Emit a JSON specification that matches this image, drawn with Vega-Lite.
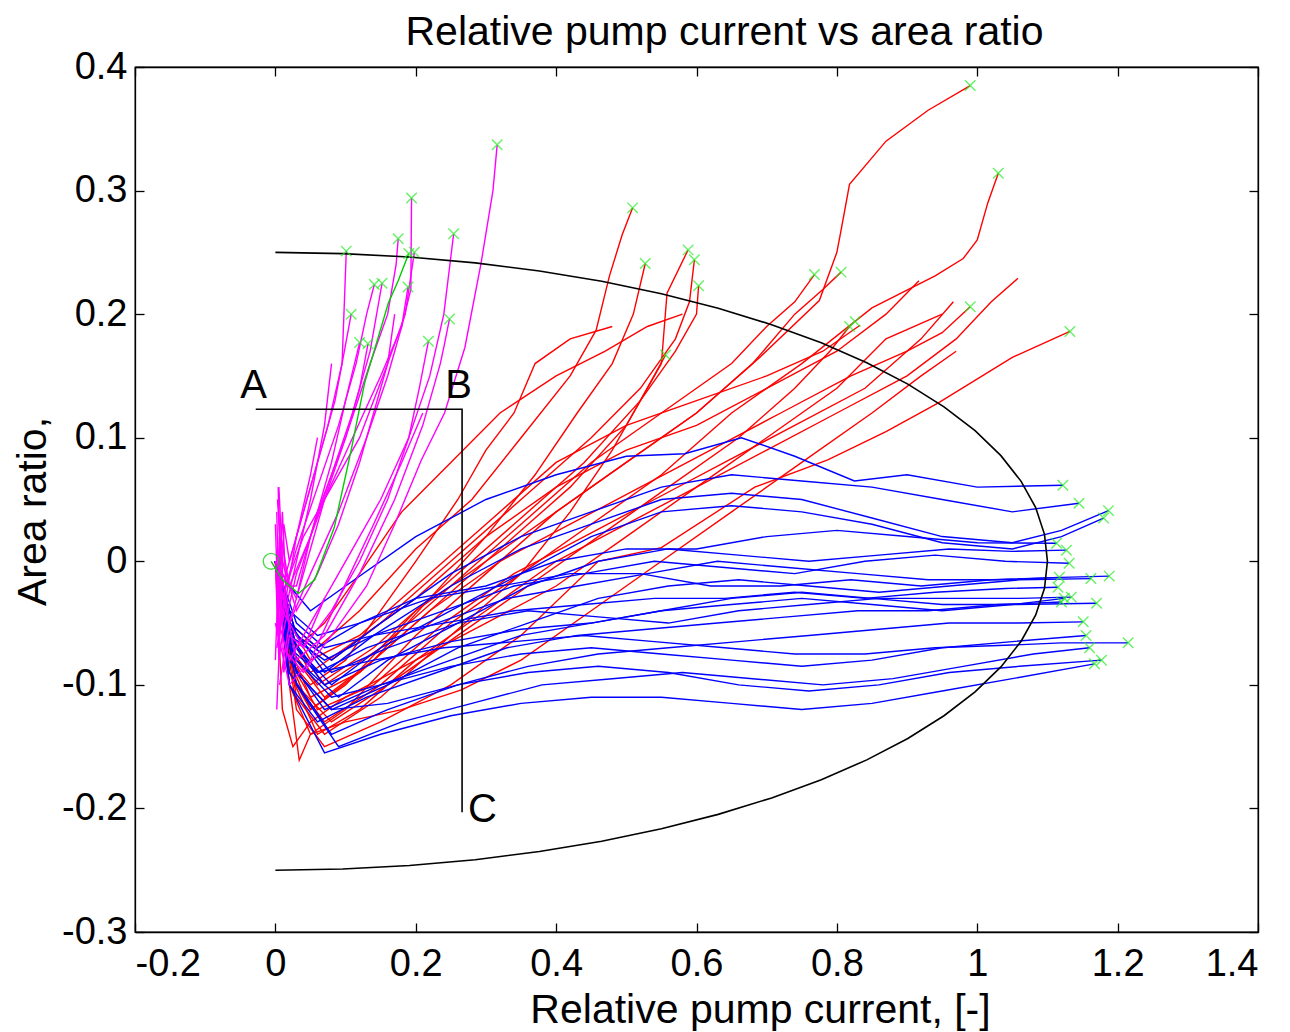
{
"$schema": "https://vega.github.io/schema/vega-lite/v6.json",
"width": 1123, "height": 865,
"autosize": {"type": "none"},
"padding": {"left": 135, "top": 67, "right": 32, "bottom": 100},
"background": "white",
"config": {
  "font": "Liberation Sans",
  "view": {"stroke": "black", "strokeWidth": 1.3},
  "axis": {"grid": false, "domainColor": "black", "domainWidth": 1.3, "tickColor": "black", "tickWidth": 1.3, "tickSize": -9, "labelColor": "black", "labelFontSize": 38, "titleColor": "black", "titleFontSize": 41, "titleFontWeight": "normal", "labelFont": "Liberation Sans", "titleFont": "Liberation Sans"}
},
"title": {"text": "Relative pump current vs area ratio", "anchor": "middle", "dx": 28, "dy": 38, "offset": 0, "baseline": "alphabetic", "fontSize": 41, "fontWeight": "normal", "color": "black", "font": "Liberation Sans"},
"datasets": {
"L": [
{"g":"r","k":1,"i":0,"x":0,"y":0},{"g":"r","k":1,"i":1,"x":0.02,"y":-0.08},{"g":"r","k":1,"i":2,"x":0.05,"y":-0.12},{"g":"r","k":1,"i":3,"x":0.1,"y":-0.1},{"g":"r","k":1,"i":4,"x":0.2,"y":-0.04},{"g":"r","k":1,"i":5,"x":0.3,"y":0.0},{"g":"r","k":1,"i":6,"x":0.4,"y":0.04},{"g":"r","k":1,"i":7,"x":0.5,"y":0.08},{"g":"r","k":1,"i":8,"x":0.6,"y":0.12},{"g":"r","k":1,"i":9,"x":0.69,"y":0.165},{"g":"r","k":1,"i":10,"x":0.775,"y":0.211},{"g":"r","k":1,"i":11,"x":0.8,"y":0.25},{"g":"r","k":1,"i":12,"x":0.806,"y":0.268},{"g":"r","k":1,"i":13,"x":0.818,"y":0.305},{"g":"r","k":1,"i":14,"x":0.87,"y":0.34},{"g":"r","k":1,"i":15,"x":0.93,"y":0.365},{"g":"r","k":1,"i":16,"x":0.99,"y":0.385},
{"g":"r","k":2,"i":0,"x":0,"y":0},{"g":"r","k":2,"i":1,"x":0.03,"y":-0.1},{"g":"r","k":2,"i":2,"x":0.07,"y":-0.13},{"g":"r","k":2,"i":3,"x":0.15,"y":-0.1},{"g":"r","k":2,"i":4,"x":0.25,"y":-0.05},{"g":"r","k":2,"i":5,"x":0.35,"y":-0.01},{"g":"r","k":2,"i":6,"x":0.45,"y":0.03},{"g":"r","k":2,"i":7,"x":0.55,"y":0.07},{"g":"r","k":2,"i":8,"x":0.65,"y":0.12},{"g":"r","k":2,"i":9,"x":0.75,"y":0.16},{"g":"r","k":2,"i":10,"x":0.85,"y":0.205},{"g":"r","k":2,"i":11,"x":0.94,"y":0.231},{"g":"r","k":2,"i":12,"x":0.98,"y":0.245},{"g":"r","k":2,"i":13,"x":1.0,"y":0.26},{"g":"r","k":2,"i":14,"x":1.015,"y":0.29},{"g":"r","k":2,"i":15,"x":1.03,"y":0.314},
{"g":"r","k":3,"i":0,"x":0,"y":0},{"g":"r","k":3,"i":1,"x":0.02,"y":-0.09},{"g":"r","k":3,"i":2,"x":0.06,"y":-0.14},{"g":"r","k":3,"i":3,"x":0.12,"y":-0.12},{"g":"r","k":3,"i":4,"x":0.2,"y":-0.08},{"g":"r","k":3,"i":5,"x":0.3,"y":-0.04},{"g":"r","k":3,"i":6,"x":0.4,"y":0.0},{"g":"r","k":3,"i":7,"x":0.5,"y":0.03},{"g":"r","k":3,"i":8,"x":0.6,"y":0.06},{"g":"r","k":3,"i":9,"x":0.7,"y":0.09},{"g":"r","k":3,"i":10,"x":0.8,"y":0.12},{"g":"r","k":3,"i":11,"x":0.9,"y":0.15},{"g":"r","k":3,"i":12,"x":0.97,"y":0.18},{"g":"r","k":3,"i":13,"x":1.02,"y":0.21},{"g":"r","k":3,"i":14,"x":1.058,"y":0.229},
{"g":"r","k":4,"i":0,"x":0,"y":0},{"g":"r","k":4,"i":1,"x":0.03,"y":-0.12},{"g":"r","k":4,"i":2,"x":0.07,"y":-0.15},{"g":"r","k":4,"i":3,"x":0.15,"y":-0.13},{"g":"r","k":4,"i":4,"x":0.25,"y":-0.1},{"g":"r","k":4,"i":5,"x":0.35,"y":-0.06},{"g":"r","k":4,"i":6,"x":0.46,"y":0.0},{"g":"r","k":4,"i":7,"x":0.55,"y":0.011},{"g":"r","k":4,"i":8,"x":0.683,"y":0.06},{"g":"r","k":4,"i":9,"x":0.787,"y":0.082},{"g":"r","k":4,"i":10,"x":0.87,"y":0.105},{"g":"r","k":4,"i":11,"x":0.944,"y":0.128},{"g":"r","k":4,"i":12,"x":1.05,"y":0.165},{"g":"r","k":4,"i":13,"x":1.132,"y":0.186},
{"g":"r","k":5,"i":0,"x":0,"y":0},{"g":"r","k":5,"i":1,"x":0.02,"y":-0.07},{"g":"r","k":5,"i":2,"x":0.05,"y":-0.11},{"g":"r","k":5,"i":3,"x":0.12,"y":-0.09},{"g":"r","k":5,"i":4,"x":0.22,"y":-0.04},{"g":"r","k":5,"i":5,"x":0.32,"y":0.0},{"g":"r","k":5,"i":6,"x":0.42,"y":0.03},{"g":"r","k":5,"i":7,"x":0.52,"y":0.06},{"g":"r","k":5,"i":8,"x":0.62,"y":0.09},{"g":"r","k":5,"i":9,"x":0.72,"y":0.12},{"g":"r","k":5,"i":10,"x":0.82,"y":0.15},{"g":"r","k":5,"i":11,"x":0.9,"y":0.17},{"g":"r","k":5,"i":12,"x":0.95,"y":0.185},{"g":"r","k":5,"i":13,"x":0.99,"y":0.206},
{"g":"r","k":6,"i":0,"x":0,"y":0},{"g":"r","k":6,"i":1,"x":0.03,"y":-0.09},{"g":"r","k":6,"i":2,"x":0.06,"y":-0.12},{"g":"r","k":6,"i":3,"x":0.14,"y":-0.1},{"g":"r","k":6,"i":4,"x":0.24,"y":-0.05},{"g":"r","k":6,"i":5,"x":0.34,"y":-0.01},{"g":"r","k":6,"i":6,"x":0.44,"y":0.02},{"g":"r","k":6,"i":7,"x":0.54,"y":0.05},{"g":"r","k":6,"i":8,"x":0.64,"y":0.08},{"g":"r","k":6,"i":9,"x":0.74,"y":0.11},{"g":"r","k":6,"i":10,"x":0.84,"y":0.14},{"g":"r","k":6,"i":11,"x":0.92,"y":0.18},{"g":"r","k":6,"i":12,"x":0.966,"y":0.21},
{"g":"r","k":7,"i":0,"x":0,"y":0},{"g":"r","k":7,"i":1,"x":0.02,"y":-0.06},{"g":"r","k":7,"i":2,"x":0.05,"y":-0.09},{"g":"r","k":7,"i":3,"x":0.1,"y":-0.07},{"g":"r","k":7,"i":4,"x":0.2,"y":-0.03},{"g":"r","k":7,"i":5,"x":0.3,"y":0.02},{"g":"r","k":7,"i":6,"x":0.4,"y":0.06},{"g":"r","k":7,"i":7,"x":0.5,"y":0.09},{"g":"r","k":7,"i":8,"x":0.6,"y":0.11},{"g":"r","k":7,"i":9,"x":0.7,"y":0.14},{"g":"r","k":7,"i":10,"x":0.8,"y":0.17},{"g":"r","k":7,"i":11,"x":0.87,"y":0.2},{"g":"r","k":7,"i":12,"x":0.917,"y":0.227},
{"g":"r","k":8,"i":0,"x":0,"y":0},{"g":"r","k":8,"i":1,"x":0.03,"y":-0.1},{"g":"r","k":8,"i":2,"x":0.08,"y":-0.13},{"g":"r","k":8,"i":3,"x":0.16,"y":-0.1},{"g":"r","k":8,"i":4,"x":0.26,"y":-0.06},{"g":"r","k":8,"i":5,"x":0.36,"y":-0.02},{"g":"r","k":8,"i":6,"x":0.46,"y":0.02},{"g":"r","k":8,"i":7,"x":0.56,"y":0.06},{"g":"r","k":8,"i":8,"x":0.66,"y":0.1},{"g":"r","k":8,"i":9,"x":0.74,"y":0.14},{"g":"r","k":8,"i":10,"x":0.79,"y":0.17},{"g":"r","k":8,"i":11,"x":0.818,"y":0.19},
{"g":"r","k":9,"i":0,"x":0,"y":0},{"g":"r","k":9,"i":1,"x":0.02,"y":-0.05},{"g":"r","k":9,"i":2,"x":0.05,"y":-0.08},{"g":"r","k":9,"i":3,"x":0.12,"y":-0.06},{"g":"r","k":9,"i":4,"x":0.2,"y":-0.02},{"g":"r","k":9,"i":5,"x":0.3,"y":0.03},{"g":"r","k":9,"i":6,"x":0.4,"y":0.08},{"g":"r","k":9,"i":7,"x":0.5,"y":0.11},{"g":"r","k":9,"i":8,"x":0.6,"y":0.13},{"g":"r","k":9,"i":9,"x":0.7,"y":0.15},{"g":"r","k":9,"i":10,"x":0.78,"y":0.17},{"g":"r","k":9,"i":11,"x":0.833,"y":0.191},
{"g":"r","k":10,"i":0,"x":0,"y":0},{"g":"r","k":10,"i":1,"x":0.03,"y":-0.07},{"g":"r","k":10,"i":2,"x":0.07,"y":-0.1},{"g":"r","k":10,"i":3,"x":0.15,"y":-0.07},{"g":"r","k":10,"i":4,"x":0.25,"y":-0.02},{"g":"r","k":10,"i":5,"x":0.35,"y":0.03},{"g":"r","k":10,"i":6,"x":0.45,"y":0.08},{"g":"r","k":10,"i":7,"x":0.55,"y":0.12},{"g":"r","k":10,"i":8,"x":0.65,"y":0.16},{"g":"r","k":10,"i":9,"x":0.7,"y":0.19},{"g":"r","k":10,"i":10,"x":0.74,"y":0.21},{"g":"r","k":10,"i":11,"x":0.768,"y":0.232},
{"g":"r","k":11,"i":0,"x":0,"y":0},{"g":"r","k":11,"i":1,"x":0.02,"y":-0.1},{"g":"r","k":11,"i":2,"x":0.05,"y":-0.14},{"g":"r","k":11,"i":3,"x":0.1,"y":-0.12},{"g":"r","k":11,"i":4,"x":0.2,"y":-0.06},{"g":"r","k":11,"i":5,"x":0.3,"y":-0.01},{"g":"r","k":11,"i":6,"x":0.4,"y":0.04},{"g":"r","k":11,"i":7,"x":0.5,"y":0.08},{"g":"r","k":11,"i":8,"x":0.6,"y":0.12},{"g":"r","k":11,"i":9,"x":0.68,"y":0.16},{"g":"r","k":11,"i":10,"x":0.74,"y":0.2},{"g":"r","k":11,"i":11,"x":0.78,"y":0.22},{"g":"r","k":11,"i":12,"x":0.806,"y":0.234},
{"g":"r","k":12,"i":0,"x":0,"y":0},{"g":"r","k":12,"i":1,"x":0.02,"y":-0.05},{"g":"r","k":12,"i":2,"x":0.06,"y":-0.07},{"g":"r","k":12,"i":3,"x":0.12,"y":-0.04},{"g":"r","k":12,"i":4,"x":0.2,"y":0.01},{"g":"r","k":12,"i":5,"x":0.28,"y":0.05},{"g":"r","k":12,"i":6,"x":0.35,"y":0.1},{"g":"r","k":12,"i":7,"x":0.42,"y":0.15},{"g":"r","k":12,"i":8,"x":0.457,"y":0.187},{"g":"r","k":12,"i":9,"x":0.476,"y":0.231},{"g":"r","k":12,"i":10,"x":0.494,"y":0.264},{"g":"r","k":12,"i":11,"x":0.509,"y":0.286},
{"g":"r","k":13,"i":0,"x":0,"y":0},{"g":"r","k":13,"i":1,"x":0.03,"y":-0.08},{"g":"r","k":13,"i":2,"x":0.07,"y":-0.11},{"g":"r","k":13,"i":3,"x":0.14,"y":-0.08},{"g":"r","k":13,"i":4,"x":0.22,"y":-0.03},{"g":"r","k":13,"i":5,"x":0.3,"y":0.02},{"g":"r","k":13,"i":6,"x":0.37,"y":0.07},{"g":"r","k":13,"i":7,"x":0.43,"y":0.12},{"g":"r","k":13,"i":8,"x":0.48,"y":0.16},{"g":"r","k":13,"i":9,"x":0.51,"y":0.2},{"g":"r","k":13,"i":10,"x":0.527,"y":0.241},
{"g":"r","k":14,"i":0,"x":0,"y":0},{"g":"r","k":14,"i":1,"x":0.02,"y":-0.09},{"g":"r","k":14,"i":2,"x":0.05,"y":-0.12},{"g":"r","k":14,"i":3,"x":0.12,"y":-0.09},{"g":"r","k":14,"i":4,"x":0.22,"y":-0.04},{"g":"r","k":14,"i":5,"x":0.32,"y":0.01},{"g":"r","k":14,"i":6,"x":0.42,"y":0.06},{"g":"r","k":14,"i":7,"x":0.5,"y":0.11},{"g":"r","k":14,"i":8,"x":0.55,"y":0.16},{"g":"r","k":14,"i":9,"x":0.558,"y":0.217},{"g":"r","k":14,"i":10,"x":0.588,"y":0.252},
{"g":"r","k":15,"i":0,"x":0,"y":0},{"g":"r","k":15,"i":1,"x":0.03,"y":-0.06},{"g":"r","k":15,"i":2,"x":0.08,"y":-0.08},{"g":"r","k":15,"i":3,"x":0.15,"y":-0.05},{"g":"r","k":15,"i":4,"x":0.25,"y":0.0},{"g":"r","k":15,"i":5,"x":0.35,"y":0.05},{"g":"r","k":15,"i":6,"x":0.45,"y":0.1},{"g":"r","k":15,"i":7,"x":0.52,"y":0.14},{"g":"r","k":15,"i":8,"x":0.57,"y":0.18},{"g":"r","k":15,"i":9,"x":0.59,"y":0.21},{"g":"r","k":15,"i":10,"x":0.597,"y":0.244},
{"g":"r","k":16,"i":0,"x":0,"y":0},{"g":"r","k":16,"i":1,"x":0.02,"y":-0.07},{"g":"r","k":16,"i":2,"x":0.06,"y":-0.1},{"g":"r","k":16,"i":3,"x":0.14,"y":-0.07},{"g":"r","k":16,"i":4,"x":0.24,"y":-0.02},{"g":"r","k":16,"i":5,"x":0.34,"y":0.03},{"g":"r","k":16,"i":6,"x":0.44,"y":0.08},{"g":"r","k":16,"i":7,"x":0.52,"y":0.13},{"g":"r","k":16,"i":8,"x":0.57,"y":0.17},{"g":"r","k":16,"i":9,"x":0.6,"y":0.2},{"g":"r","k":16,"i":10,"x":0.603,"y":0.223},
{"g":"r","k":17,"i":0,"x":0,"y":0},{"g":"r","k":17,"i":1,"x":0.03,"y":-0.11},{"g":"r","k":17,"i":2,"x":0.07,"y":-0.14},{"g":"r","k":17,"i":3,"x":0.15,"y":-0.11},{"g":"r","k":17,"i":4,"x":0.25,"y":-0.06},{"g":"r","k":17,"i":5,"x":0.35,"y":-0.01},{"g":"r","k":17,"i":6,"x":0.42,"y":0.04},{"g":"r","k":17,"i":7,"x":0.48,"y":0.09},{"g":"r","k":17,"i":8,"x":0.52,"y":0.13},{"g":"r","k":17,"i":9,"x":0.556,"y":0.167},
{"g":"r","k":18,"i":0,"x":0,"y":0},{"g":"r","k":18,"i":1,"x":0.02,"y":-0.1},{"g":"r","k":18,"i":2,"x":0.034,"y":-0.161},{"g":"r","k":18,"i":3,"x":0.05,"y":-0.14},{"g":"r","k":18,"i":4,"x":0.1,"y":-0.13},{"g":"r","k":18,"i":5,"x":0.18,"y":-0.12},{"g":"r","k":18,"i":6,"x":0.265,"y":-0.104},{"g":"r","k":18,"i":7,"x":0.35,"y":-0.08},{"g":"r","k":18,"i":8,"x":0.45,"y":-0.04},{"g":"r","k":18,"i":9,"x":0.55,"y":0.0},{"g":"r","k":18,"i":10,"x":0.65,"y":0.04},{"g":"r","k":18,"i":11,"x":0.75,"y":0.08},{"g":"r","k":18,"i":12,"x":0.85,"y":0.12},{"g":"r","k":18,"i":13,"x":0.92,"y":0.15},{"g":"r","k":18,"i":14,"x":0.97,"y":0.17},
{"g":"r","k":19,"i":0,"x":0,"y":0},{"g":"r","k":19,"i":1,"x":0.01,"y":-0.04},{"g":"r","k":19,"i":2,"x":0.03,"y":-0.07},{"g":"r","k":19,"i":3,"x":0.07,"y":-0.05},{"g":"r","k":19,"i":4,"x":0.12,"y":-0.01},{"g":"r","k":19,"i":5,"x":0.18,"y":0.04},{"g":"r","k":19,"i":6,"x":0.25,"y":0.08},{"g":"r","k":19,"i":7,"x":0.32,"y":0.12},{"g":"r","k":19,"i":8,"x":0.4,"y":0.15},{"g":"r","k":19,"i":9,"x":0.47,"y":0.17},{"g":"r","k":19,"i":10,"x":0.53,"y":0.19},{"g":"r","k":19,"i":11,"x":0.58,"y":0.2},
{"g":"r","k":20,"i":0,"x":0,"y":0},{"g":"r","k":20,"i":1,"x":0.02,"y":-0.08},{"g":"r","k":20,"i":2,"x":0.05,"y":-0.1},{"g":"r","k":20,"i":3,"x":0.1,"y":-0.08},{"g":"r","k":20,"i":4,"x":0.15,"y":-0.04},{"g":"r","k":20,"i":5,"x":0.2,"y":0.0},{"g":"r","k":20,"i":6,"x":0.26,"y":0.05},{"g":"r","k":20,"i":7,"x":0.3,"y":0.09},{"g":"r","k":20,"i":8,"x":0.34,"y":0.12},{"g":"r","k":20,"i":9,"x":0.37,"y":0.16},{"g":"r","k":20,"i":10,"x":0.42,"y":0.18},{"g":"r","k":20,"i":11,"x":0.48,"y":0.19},
{"g":"r","k":21,"i":0,"x":0,"y":0},{"g":"r","k":21,"i":1,"x":0.01,"y":-0.12},{"g":"r","k":21,"i":2,"x":0.025,"y":-0.15},{"g":"r","k":21,"i":3,"x":0.05,"y":-0.13},{"g":"r","k":21,"i":4,"x":0.1,"y":-0.11},{"g":"r","k":21,"i":5,"x":0.2,"y":-0.08},{"g":"r","k":21,"i":6,"x":0.3,"y":-0.05},{"g":"r","k":21,"i":7,"x":0.4,"y":-0.02},{"g":"r","k":21,"i":8,"x":0.5,"y":0.02},{"g":"r","k":21,"i":9,"x":0.6,"y":0.06},{"g":"r","k":21,"i":10,"x":0.7,"y":0.1},{"g":"r","k":21,"i":11,"x":0.8,"y":0.14},{"g":"r","k":21,"i":12,"x":0.87,"y":0.18},{"g":"r","k":21,"i":13,"x":0.95,"y":0.2},

{"g":"b","k":1,"i":0,"x":0,"y":0},{"g":"b","k":1,"i":1,"x":0.02,"y":-0.02},{"g":"b","k":1,"i":2,"x":0.05,"y":-0.04},{"g":"b","k":1,"i":3,"x":0.1,"y":-0.02},{"g":"b","k":1,"i":4,"x":0.2,"y":0.02},{"g":"b","k":1,"i":5,"x":0.3,"y":0.05},{"g":"b","k":1,"i":6,"x":0.4,"y":0.07},{"g":"b","k":1,"i":7,"x":0.5,"y":0.085},{"g":"b","k":1,"i":8,"x":0.583,"y":0.087},{"g":"b","k":1,"i":9,"x":0.664,"y":0.1},{"g":"b","k":1,"i":10,"x":0.74,"y":0.085},{"g":"b","k":1,"i":11,"x":0.825,"y":0.065},{"g":"b","k":1,"i":12,"x":0.9,"y":0.07},{"g":"b","k":1,"i":13,"x":1.0,"y":0.06},{"g":"b","k":1,"i":14,"x":1.122,"y":0.0615},
{"g":"b","k":2,"i":0,"x":0,"y":0},{"g":"b","k":2,"i":1,"x":0.03,"y":-0.06},{"g":"b","k":2,"i":2,"x":0.08,"y":-0.08},{"g":"b","k":2,"i":3,"x":0.15,"y":-0.05},{"g":"b","k":2,"i":4,"x":0.25,"y":-0.01},{"g":"b","k":2,"i":5,"x":0.35,"y":0.02},{"g":"b","k":2,"i":6,"x":0.45,"y":0.04},{"g":"b","k":2,"i":7,"x":0.55,"y":0.06},{"g":"b","k":2,"i":8,"x":0.65,"y":0.07},{"g":"b","k":2,"i":9,"x":0.75,"y":0.065},{"g":"b","k":2,"i":10,"x":0.85,"y":0.06},{"g":"b","k":2,"i":11,"x":0.95,"y":0.05},{"g":"b","k":2,"i":12,"x":1.05,"y":0.04},{"g":"b","k":2,"i":13,"x":1.145,"y":0.047},
{"g":"b","k":3,"i":0,"x":0,"y":0},{"g":"b","k":3,"i":1,"x":0.02,"y":-0.05},{"g":"b","k":3,"i":2,"x":0.07,"y":-0.09},{"g":"b","k":3,"i":3,"x":0.14,"y":-0.06},{"g":"b","k":3,"i":4,"x":0.25,"y":-0.02},{"g":"b","k":3,"i":5,"x":0.35,"y":0.01},{"g":"b","k":3,"i":6,"x":0.45,"y":0.03},{"g":"b","k":3,"i":7,"x":0.55,"y":0.05},{"g":"b","k":3,"i":8,"x":0.65,"y":0.055},{"g":"b","k":3,"i":9,"x":0.75,"y":0.05},{"g":"b","k":3,"i":10,"x":0.85,"y":0.035},{"g":"b","k":3,"i":11,"x":0.95,"y":0.02},{"g":"b","k":3,"i":12,"x":1.05,"y":0.015},{"g":"b","k":3,"i":13,"x":1.12,"y":0.025},{"g":"b","k":3,"i":14,"x":1.187,"y":0.041},
{"g":"b","k":4,"i":0,"x":0,"y":0},{"g":"b","k":4,"i":1,"x":0.03,"y":-0.07},{"g":"b","k":4,"i":2,"x":0.08,"y":-0.1},{"g":"b","k":4,"i":3,"x":0.15,"y":-0.07},{"g":"b","k":4,"i":4,"x":0.25,"y":-0.04},{"g":"b","k":4,"i":5,"x":0.35,"y":-0.01},{"g":"b","k":4,"i":6,"x":0.45,"y":0.02},{"g":"b","k":4,"i":7,"x":0.55,"y":0.04},{"g":"b","k":4,"i":8,"x":0.65,"y":0.045},{"g":"b","k":4,"i":9,"x":0.75,"y":0.04},{"g":"b","k":4,"i":10,"x":0.85,"y":0.03},{"g":"b","k":4,"i":11,"x":0.95,"y":0.015},{"g":"b","k":4,"i":12,"x":1.05,"y":0.01},{"g":"b","k":4,"i":13,"x":1.12,"y":0.02},{"g":"b","k":4,"i":14,"x":1.18,"y":0.035},
{"g":"b","k":5,"i":0,"x":0,"y":0},{"g":"b","k":5,"i":1,"x":0.02,"y":-0.04},{"g":"b","k":5,"i":2,"x":0.06,"y":-0.06},{"g":"b","k":5,"i":3,"x":0.12,"y":-0.05},{"g":"b","k":5,"i":4,"x":0.2,"y":-0.03},{"g":"b","k":5,"i":5,"x":0.3,"y":-0.02},{"g":"b","k":5,"i":6,"x":0.4,"y":0.0},{"g":"b","k":5,"i":7,"x":0.5,"y":0.01},{"g":"b","k":5,"i":8,"x":0.6,"y":0.01},{"g":"b","k":5,"i":9,"x":0.7,"y":0.02},{"g":"b","k":5,"i":10,"x":0.8,"y":0.025},{"g":"b","k":5,"i":11,"x":0.9,"y":0.02},{"g":"b","k":5,"i":12,"x":1.0,"y":0.015},{"g":"b","k":5,"i":13,"x":1.113,"y":0.0146},
{"g":"b","k":6,"i":0,"x":0,"y":0},{"g":"b","k":6,"i":1,"x":0.03,"y":-0.08},{"g":"b","k":6,"i":2,"x":0.09,"y":-0.11},{"g":"b","k":6,"i":3,"x":0.16,"y":-0.08},{"g":"b","k":6,"i":4,"x":0.26,"y":-0.05},{"g":"b","k":6,"i":5,"x":0.36,"y":-0.02},{"g":"b","k":6,"i":6,"x":0.46,"y":0.0},{"g":"b","k":6,"i":7,"x":0.56,"y":0.01},{"g":"b","k":6,"i":8,"x":0.66,"y":0.005},{"g":"b","k":6,"i":9,"x":0.76,"y":0.0},{"g":"b","k":6,"i":10,"x":0.86,"y":0.005},{"g":"b","k":6,"i":11,"x":0.96,"y":0.01},{"g":"b","k":6,"i":12,"x":1.05,"y":0.008},{"g":"b","k":6,"i":13,"x":1.127,"y":0.009},
{"g":"b","k":7,"i":0,"x":0,"y":0},{"g":"b","k":7,"i":1,"x":0.02,"y":-0.06},{"g":"b","k":7,"i":2,"x":0.07,"y":-0.08},{"g":"b","k":7,"i":3,"x":0.14,"y":-0.06},{"g":"b","k":7,"i":4,"x":0.24,"y":-0.04},{"g":"b","k":7,"i":5,"x":0.34,"y":-0.02},{"g":"b","k":7,"i":6,"x":0.44,"y":-0.01},{"g":"b","k":7,"i":7,"x":0.54,"y":0.0},{"g":"b","k":7,"i":8,"x":0.64,"y":-0.005},{"g":"b","k":7,"i":9,"x":0.74,"y":-0.01},{"g":"b","k":7,"i":10,"x":0.84,"y":0.0},{"g":"b","k":7,"i":11,"x":0.94,"y":0.005},{"g":"b","k":7,"i":12,"x":1.04,"y":0.0},{"g":"b","k":7,"i":13,"x":1.131,"y":-0.0016},
{"g":"b","k":8,"i":0,"x":0,"y":0},{"g":"b","k":8,"i":1,"x":0.02,"y":-0.05},{"g":"b","k":8,"i":2,"x":0.06,"y":-0.07},{"g":"b","k":8,"i":3,"x":0.12,"y":-0.05},{"g":"b","k":8,"i":4,"x":0.22,"y":-0.03},{"g":"b","k":8,"i":5,"x":0.32,"y":-0.02},{"g":"b","k":8,"i":6,"x":0.42,"y":-0.01},{"g":"b","k":8,"i":7,"x":0.52,"y":-0.01},{"g":"b","k":8,"i":8,"x":0.62,"y":-0.02},{"g":"b","k":8,"i":9,"x":0.72,"y":-0.02},{"g":"b","k":8,"i":10,"x":0.82,"y":-0.015},{"g":"b","k":8,"i":11,"x":0.92,"y":-0.02},{"g":"b","k":8,"i":12,"x":1.02,"y":-0.015},{"g":"b","k":8,"i":13,"x":1.117,"y":-0.013},
{"g":"b","k":9,"i":0,"x":0,"y":0},{"g":"b","k":9,"i":1,"x":0.03,"y":-0.09},{"g":"b","k":9,"i":2,"x":0.08,"y":-0.12},{"g":"b","k":9,"i":3,"x":0.16,"y":-0.1},{"g":"b","k":9,"i":4,"x":0.26,"y":-0.07},{"g":"b","k":9,"i":5,"x":0.36,"y":-0.05},{"g":"b","k":9,"i":6,"x":0.46,"y":-0.03},{"g":"b","k":9,"i":7,"x":0.56,"y":-0.02},{"g":"b","k":9,"i":8,"x":0.66,"y":-0.015},{"g":"b","k":9,"i":9,"x":0.76,"y":-0.02},{"g":"b","k":9,"i":10,"x":0.86,"y":-0.025},{"g":"b","k":9,"i":11,"x":0.96,"y":-0.02},{"g":"b","k":9,"i":12,"x":1.06,"y":-0.015},{"g":"b","k":9,"i":13,"x":1.162,"y":-0.014},
{"g":"b","k":10,"i":0,"x":0,"y":0},{"g":"b","k":10,"i":1,"x":0.02,"y":-0.07},{"g":"b","k":10,"i":2,"x":0.06,"y":-0.09},{"g":"b","k":10,"i":3,"x":0.13,"y":-0.07},{"g":"b","k":10,"i":4,"x":0.23,"y":-0.05},{"g":"b","k":10,"i":5,"x":0.33,"y":-0.03},{"g":"b","k":10,"i":6,"x":0.43,"y":-0.02},{"g":"b","k":10,"i":7,"x":0.53,"y":-0.01},{"g":"b","k":10,"i":8,"x":0.63,"y":0.0},{"g":"b","k":10,"i":9,"x":0.73,"y":-0.005},{"g":"b","k":10,"i":10,"x":0.83,"y":-0.01},{"g":"b","k":10,"i":11,"x":0.93,"y":-0.015},{"g":"b","k":10,"i":12,"x":1.03,"y":-0.015},{"g":"b","k":10,"i":13,"x":1.12,"y":-0.013},{"g":"b","k":10,"i":14,"x":1.188,"y":-0.012},
{"g":"b","k":11,"i":0,"x":0,"y":0},{"g":"b","k":11,"i":1,"x":0.03,"y":-0.05},{"g":"b","k":11,"i":2,"x":0.07,"y":-0.07},{"g":"b","k":11,"i":3,"x":0.14,"y":-0.06},{"g":"b","k":11,"i":4,"x":0.24,"y":-0.05},{"g":"b","k":11,"i":5,"x":0.34,"y":-0.04},{"g":"b","k":11,"i":6,"x":0.44,"y":-0.035},{"g":"b","k":11,"i":7,"x":0.54,"y":-0.03},{"g":"b","k":11,"i":8,"x":0.64,"y":-0.03},{"g":"b","k":11,"i":9,"x":0.74,"y":-0.025},{"g":"b","k":11,"i":10,"x":0.84,"y":-0.03},{"g":"b","k":11,"i":11,"x":0.94,"y":-0.025},{"g":"b","k":11,"i":12,"x":1.04,"y":-0.022},{"g":"b","k":11,"i":13,"x":1.115,"y":-0.021},
{"g":"b","k":12,"i":0,"x":0,"y":0},{"g":"b","k":12,"i":1,"x":0.02,"y":-0.08},{"g":"b","k":12,"i":2,"x":0.07,"y":-0.12},{"g":"b","k":12,"i":3,"x":0.15,"y":-0.1},{"g":"b","k":12,"i":4,"x":0.25,"y":-0.08},{"g":"b","k":12,"i":5,"x":0.35,"y":-0.06},{"g":"b","k":12,"i":6,"x":0.45,"y":-0.05},{"g":"b","k":12,"i":7,"x":0.55,"y":-0.04},{"g":"b","k":12,"i":8,"x":0.65,"y":-0.035},{"g":"b","k":12,"i":9,"x":0.75,"y":-0.03},{"g":"b","k":12,"i":10,"x":0.85,"y":-0.035},{"g":"b","k":12,"i":11,"x":0.95,"y":-0.04},{"g":"b","k":12,"i":12,"x":1.05,"y":-0.035},{"g":"b","k":12,"i":13,"x":1.124,"y":-0.03},
{"g":"b","k":13,"i":0,"x":0,"y":0},{"g":"b","k":13,"i":1,"x":0.03,"y":-0.06},{"g":"b","k":13,"i":2,"x":0.08,"y":-0.09},{"g":"b","k":13,"i":3,"x":0.16,"y":-0.07},{"g":"b","k":13,"i":4,"x":0.26,"y":-0.05},{"g":"b","k":13,"i":5,"x":0.36,"y":-0.04},{"g":"b","k":13,"i":6,"x":0.46,"y":-0.045},{"g":"b","k":13,"i":7,"x":0.56,"y":-0.05},{"g":"b","k":13,"i":8,"x":0.66,"y":-0.04},{"g":"b","k":13,"i":9,"x":0.76,"y":-0.035},{"g":"b","k":13,"i":10,"x":0.86,"y":-0.03},{"g":"b","k":13,"i":11,"x":0.96,"y":-0.03},{"g":"b","k":13,"i":12,"x":1.06,"y":-0.03},{"g":"b","k":13,"i":13,"x":1.134,"y":-0.029},
{"g":"b","k":14,"i":0,"x":0,"y":0},{"g":"b","k":14,"i":1,"x":0.02,"y":-0.1},{"g":"b","k":14,"i":2,"x":0.06,"y":-0.13},{"g":"b","k":14,"i":3,"x":0.13,"y":-0.11},{"g":"b","k":14,"i":4,"x":0.23,"y":-0.09},{"g":"b","k":14,"i":5,"x":0.33,"y":-0.07},{"g":"b","k":14,"i":6,"x":0.43,"y":-0.06},{"g":"b","k":14,"i":7,"x":0.53,"y":-0.055},{"g":"b","k":14,"i":8,"x":0.63,"y":-0.05},{"g":"b","k":14,"i":9,"x":0.73,"y":-0.045},{"g":"b","k":14,"i":10,"x":0.83,"y":-0.04},{"g":"b","k":14,"i":11,"x":0.93,"y":-0.04},{"g":"b","k":14,"i":12,"x":1.03,"y":-0.035},{"g":"b","k":14,"i":13,"x":1.12,"y":-0.033},
{"g":"b","k":15,"i":0,"x":0,"y":0},{"g":"b","k":15,"i":1,"x":0.03,"y":-0.07},{"g":"b","k":15,"i":2,"x":0.07,"y":-0.1},{"g":"b","k":15,"i":3,"x":0.15,"y":-0.08},{"g":"b","k":15,"i":4,"x":0.25,"y":-0.065},{"g":"b","k":15,"i":5,"x":0.35,"y":-0.055},{"g":"b","k":15,"i":6,"x":0.45,"y":-0.05},{"g":"b","k":15,"i":7,"x":0.55,"y":-0.04},{"g":"b","k":15,"i":8,"x":0.65,"y":-0.03},{"g":"b","k":15,"i":9,"x":0.75,"y":-0.025},{"g":"b","k":15,"i":10,"x":0.85,"y":-0.03},{"g":"b","k":15,"i":11,"x":0.95,"y":-0.035},{"g":"b","k":15,"i":12,"x":1.05,"y":-0.035},{"g":"b","k":15,"i":13,"x":1.17,"y":-0.034},
{"g":"b","k":16,"i":0,"x":0,"y":0},{"g":"b","k":16,"i":1,"x":0.02,"y":-0.09},{"g":"b","k":16,"i":2,"x":0.08,"y":-0.14},{"g":"b","k":16,"i":3,"x":0.16,"y":-0.12},{"g":"b","k":16,"i":4,"x":0.26,"y":-0.1},{"g":"b","k":16,"i":5,"x":0.36,"y":-0.085},{"g":"b","k":16,"i":6,"x":0.46,"y":-0.075},{"g":"b","k":16,"i":7,"x":0.56,"y":-0.07},{"g":"b","k":16,"i":8,"x":0.66,"y":-0.065},{"g":"b","k":16,"i":9,"x":0.76,"y":-0.06},{"g":"b","k":16,"i":10,"x":0.86,"y":-0.055},{"g":"b","k":16,"i":11,"x":0.96,"y":-0.05},{"g":"b","k":16,"i":12,"x":1.06,"y":-0.05},{"g":"b","k":16,"i":13,"x":1.151,"y":-0.049},
{"g":"b","k":17,"i":0,"x":0,"y":0},{"g":"b","k":17,"i":1,"x":0.03,"y":-0.08},{"g":"b","k":17,"i":2,"x":0.08,"y":-0.11},{"g":"b","k":17,"i":3,"x":0.15,"y":-0.1},{"g":"b","k":17,"i":4,"x":0.25,"y":-0.085},{"g":"b","k":17,"i":5,"x":0.35,"y":-0.075},{"g":"b","k":17,"i":6,"x":0.45,"y":-0.07},{"g":"b","k":17,"i":7,"x":0.55,"y":-0.075},{"g":"b","k":17,"i":8,"x":0.65,"y":-0.08},{"g":"b","k":17,"i":9,"x":0.75,"y":-0.085},{"g":"b","k":17,"i":10,"x":0.85,"y":-0.08},{"g":"b","k":17,"i":11,"x":0.95,"y":-0.07},{"g":"b","k":17,"i":12,"x":1.05,"y":-0.065},{"g":"b","k":17,"i":13,"x":1.155,"y":-0.06},
{"g":"b","k":18,"i":0,"x":0,"y":0},{"g":"b","k":18,"i":1,"x":0.02,"y":-0.06},{"g":"b","k":18,"i":2,"x":0.06,"y":-0.09},{"g":"b","k":18,"i":3,"x":0.14,"y":-0.08},{"g":"b","k":18,"i":4,"x":0.24,"y":-0.07},{"g":"b","k":18,"i":5,"x":0.34,"y":-0.065},{"g":"b","k":18,"i":6,"x":0.44,"y":-0.06},{"g":"b","k":18,"i":7,"x":0.54,"y":-0.065},{"g":"b","k":18,"i":8,"x":0.64,"y":-0.07},{"g":"b","k":18,"i":9,"x":0.74,"y":-0.075},{"g":"b","k":18,"i":10,"x":0.84,"y":-0.075},{"g":"b","k":18,"i":11,"x":0.94,"y":-0.07},{"g":"b","k":18,"i":12,"x":1.04,"y":-0.068},{"g":"b","k":18,"i":13,"x":1.12,"y":-0.066},{"g":"b","k":18,"i":14,"x":1.215,"y":-0.066},
{"g":"b","k":19,"i":0,"x":0,"y":0},{"g":"b","k":19,"i":1,"x":0.03,"y":-0.1},{"g":"b","k":19,"i":2,"x":0.09,"y":-0.15},{"g":"b","k":19,"i":3,"x":0.18,"y":-0.13},{"g":"b","k":19,"i":4,"x":0.28,"y":-0.115},{"g":"b","k":19,"i":5,"x":0.38,"y":-0.1},{"g":"b","k":19,"i":6,"x":0.48,"y":-0.095},{"g":"b","k":19,"i":7,"x":0.58,"y":-0.09},{"g":"b","k":19,"i":8,"x":0.68,"y":-0.095},{"g":"b","k":19,"i":9,"x":0.78,"y":-0.1},{"g":"b","k":19,"i":10,"x":0.88,"y":-0.095},{"g":"b","k":19,"i":11,"x":0.98,"y":-0.085},{"g":"b","k":19,"i":12,"x":1.08,"y":-0.075},{"g":"b","k":19,"i":13,"x":1.16,"y":-0.07},
{"g":"b","k":20,"i":0,"x":0,"y":0},{"g":"b","k":20,"i":1,"x":0.02,"y":-0.1},{"g":"b","k":20,"i":2,"x":0.07,"y":-0.155},{"g":"b","k":20,"i":3,"x":0.15,"y":-0.14},{"g":"b","k":20,"i":4,"x":0.25,"y":-0.125},{"g":"b","k":20,"i":5,"x":0.35,"y":-0.115},{"g":"b","k":20,"i":6,"x":0.45,"y":-0.11},{"g":"b","k":20,"i":7,"x":0.55,"y":-0.11},{"g":"b","k":20,"i":8,"x":0.65,"y":-0.115},{"g":"b","k":20,"i":9,"x":0.75,"y":-0.12},{"g":"b","k":20,"i":10,"x":0.85,"y":-0.115},{"g":"b","k":20,"i":11,"x":0.95,"y":-0.105},{"g":"b","k":20,"i":12,"x":1.05,"y":-0.095},{"g":"b","k":20,"i":13,"x":1.167,"y":-0.083},
{"g":"b","k":21,"i":0,"x":0,"y":0},{"g":"b","k":21,"i":1,"x":0.03,"y":-0.09},{"g":"b","k":21,"i":2,"x":0.08,"y":-0.12},{"g":"b","k":21,"i":3,"x":0.16,"y":-0.115},{"g":"b","k":21,"i":4,"x":0.26,"y":-0.1},{"g":"b","k":21,"i":5,"x":0.36,"y":-0.09},{"g":"b","k":21,"i":6,"x":0.46,"y":-0.085},{"g":"b","k":21,"i":7,"x":0.56,"y":-0.09},{"g":"b","k":21,"i":8,"x":0.66,"y":-0.1},{"g":"b","k":21,"i":9,"x":0.76,"y":-0.105},{"g":"b","k":21,"i":10,"x":0.86,"y":-0.1},{"g":"b","k":21,"i":11,"x":0.96,"y":-0.09},{"g":"b","k":21,"i":12,"x":1.06,"y":-0.085},{"g":"b","k":21,"i":13,"x":1.177,"y":-0.08},

{"g":"m","k":1,"i":0,"x":0.003,"y":0.02},{"g":"m","k":1,"i":1,"x":0.008,"y":-0.05},{"g":"m","k":1,"i":2,"x":0.012,"y":0.03},{"g":"m","k":1,"i":3,"x":0.02,"y":0.0},{"g":"m","k":1,"i":4,"x":0.04,"y":0.04},{"g":"m","k":1,"i":5,"x":0.06,"y":0.08},{"g":"m","k":1,"i":6,"x":0.085,"y":0.13},{"g":"m","k":1,"i":7,"x":0.095,"y":0.16},{"g":"m","k":1,"i":8,"x":0.099,"y":0.22},{"g":"m","k":1,"i":9,"x":0.101,"y":0.251},
{"g":"m","k":2,"i":0,"x":0.005,"y":-0.03},{"g":"m","k":2,"i":1,"x":0.01,"y":0.04},{"g":"m","k":2,"i":2,"x":0.015,"y":-0.02},{"g":"m","k":2,"i":3,"x":0.03,"y":-0.02},{"g":"m","k":2,"i":4,"x":0.06,"y":0.04},{"g":"m","k":2,"i":5,"x":0.1,"y":0.1},{"g":"m","k":2,"i":6,"x":0.135,"y":0.16},{"g":"m","k":2,"i":7,"x":0.16,"y":0.2},{"g":"m","k":2,"i":8,"x":0.172,"y":0.24},{"g":"m","k":2,"i":9,"x":0.175,"y":0.261},
{"g":"m","k":3,"i":0,"x":0.0,"y":0.0},{"g":"m","k":3,"i":1,"x":0.005,"y":-0.08},{"g":"m","k":3,"i":2,"x":0.01,"y":-0.06},{"g":"m","k":3,"i":3,"x":0.03,"y":-0.01},{"g":"m","k":3,"i":4,"x":0.07,"y":0.05},{"g":"m","k":3,"i":5,"x":0.11,"y":0.1},{"g":"m","k":3,"i":6,"x":0.15,"y":0.15},{"g":"m","k":3,"i":7,"x":0.18,"y":0.19},{"g":"m","k":3,"i":8,"x":0.193,"y":0.22},{"g":"m","k":3,"i":9,"x":0.194,"y":0.294},
{"g":"m","k":4,"i":0,"x":0.002,"y":0.04},{"g":"m","k":4,"i":1,"x":0.006,"y":-0.06},{"g":"m","k":4,"i":2,"x":0.015,"y":-0.02},{"g":"m","k":4,"i":3,"x":0.04,"y":0.02},{"g":"m","k":4,"i":4,"x":0.08,"y":0.06},{"g":"m","k":4,"i":5,"x":0.12,"y":0.1},{"g":"m","k":4,"i":6,"x":0.16,"y":0.16},{"g":"m","k":4,"i":7,"x":0.185,"y":0.2},{"g":"m","k":4,"i":8,"x":0.198,"y":0.25},
{"g":"m","k":5,"i":0,"x":0.005,"y":-0.05},{"g":"m","k":5,"i":1,"x":0.02,"y":-0.08},{"g":"m","k":5,"i":2,"x":0.05,"y":-0.05},{"g":"m","k":5,"i":3,"x":0.1,"y":0.0},{"g":"m","k":5,"i":4,"x":0.15,"y":0.05},{"g":"m","k":5,"i":5,"x":0.19,"y":0.1},{"g":"m","k":5,"i":6,"x":0.22,"y":0.15},{"g":"m","k":5,"i":7,"x":0.24,"y":0.2},{"g":"m","k":5,"i":8,"x":0.254,"y":0.265},
{"g":"m","k":6,"i":0,"x":0.01,"y":-0.07},{"g":"m","k":6,"i":1,"x":0.04,"y":-0.09},{"g":"m","k":6,"i":2,"x":0.08,"y":-0.06},{"g":"m","k":6,"i":3,"x":0.13,"y":-0.02},{"g":"m","k":6,"i":4,"x":0.17,"y":0.03},{"g":"m","k":6,"i":5,"x":0.208,"y":0.082},{"g":"m","k":6,"i":6,"x":0.241,"y":0.12},{"g":"m","k":6,"i":7,"x":0.27,"y":0.173},{"g":"m","k":6,"i":8,"x":0.293,"y":0.241},{"g":"m","k":6,"i":9,"x":0.31,"y":0.3},{"g":"m","k":6,"i":10,"x":0.316,"y":0.337},
{"g":"m","k":7,"i":0,"x":0.0,"y":0.03},{"g":"m","k":7,"i":1,"x":0.004,"y":-0.04},{"g":"m","k":7,"i":2,"x":0.01,"y":-0.03},{"g":"m","k":7,"i":3,"x":0.03,"y":0.01},{"g":"m","k":7,"i":4,"x":0.06,"y":0.06},{"g":"m","k":7,"i":5,"x":0.09,"y":0.11},{"g":"m","k":7,"i":6,"x":0.115,"y":0.16},{"g":"m","k":7,"i":7,"x":0.13,"y":0.2},{"g":"m","k":7,"i":8,"x":0.141,"y":0.224},
{"g":"m","k":8,"i":0,"x":0.004,"y":-0.06},{"g":"m","k":8,"i":1,"x":0.008,"y":0.02},{"g":"m","k":8,"i":2,"x":0.02,"y":-0.02},{"g":"m","k":8,"i":3,"x":0.05,"y":0.02},{"g":"m","k":8,"i":4,"x":0.08,"y":0.07},{"g":"m","k":8,"i":5,"x":0.11,"y":0.12},{"g":"m","k":8,"i":6,"x":0.135,"y":0.17},{"g":"m","k":8,"i":7,"x":0.152,"y":0.225},
{"g":"m","k":9,"i":0,"x":0.006,"y":0.0},{"g":"m","k":9,"i":1,"x":0.02,"y":-0.05},{"g":"m","k":9,"i":2,"x":0.05,"y":-0.01},{"g":"m","k":9,"i":3,"x":0.09,"y":0.04},{"g":"m","k":9,"i":4,"x":0.13,"y":0.1},{"g":"m","k":9,"i":5,"x":0.16,"y":0.15},{"g":"m","k":9,"i":6,"x":0.18,"y":0.19},{"g":"m","k":9,"i":7,"x":0.189,"y":0.222},
{"g":"m","k":10,"i":0,"x":0.0,"y":-0.08},{"g":"m","k":10,"i":1,"x":0.005,"y":0.0},{"g":"m","k":10,"i":2,"x":0.01,"y":-0.02},{"g":"m","k":10,"i":3,"x":0.03,"y":0.02},{"g":"m","k":10,"i":4,"x":0.05,"y":0.06},{"g":"m","k":10,"i":5,"x":0.075,"y":0.11},{"g":"m","k":10,"i":6,"x":0.095,"y":0.16},{"g":"m","k":10,"i":7,"x":0.108,"y":0.2},
{"g":"m","k":11,"i":0,"x":0.003,"y":0.05},{"g":"m","k":11,"i":1,"x":0.01,"y":-0.01},{"g":"m","k":11,"i":2,"x":0.03,"y":-0.03},{"g":"m","k":11,"i":3,"x":0.05,"y":0.02},{"g":"m","k":11,"i":4,"x":0.08,"y":0.08},{"g":"m","k":11,"i":5,"x":0.1,"y":0.13},{"g":"m","k":11,"i":6,"x":0.12,"y":0.177},
{"g":"m","k":12,"i":0,"x":0.006,"y":-0.1},{"g":"m","k":12,"i":1,"x":0.02,"y":-0.05},{"g":"m","k":12,"i":2,"x":0.045,"y":0.0},{"g":"m","k":12,"i":3,"x":0.07,"y":0.05},{"g":"m","k":12,"i":4,"x":0.1,"y":0.1},{"g":"m","k":12,"i":5,"x":0.12,"y":0.14},{"g":"m","k":12,"i":6,"x":0.132,"y":0.176},
{"g":"m","k":13,"i":0,"x":0.01,"y":-0.04},{"g":"m","k":13,"i":1,"x":0.04,"y":-0.07},{"g":"m","k":13,"i":2,"x":0.08,"y":-0.04},{"g":"m","k":13,"i":3,"x":0.12,"y":0.0},{"g":"m","k":13,"i":4,"x":0.16,"y":0.05},{"g":"m","k":13,"i":5,"x":0.19,"y":0.1},{"g":"m","k":13,"i":6,"x":0.205,"y":0.14},{"g":"m","k":13,"i":7,"x":0.218,"y":0.178},
{"g":"m","k":14,"i":0,"x":0.008,"y":-0.02},{"g":"m","k":14,"i":1,"x":0.03,"y":-0.08},{"g":"m","k":14,"i":2,"x":0.07,"y":-0.06},{"g":"m","k":14,"i":3,"x":0.12,"y":-0.01},{"g":"m","k":14,"i":4,"x":0.17,"y":0.05},{"g":"m","k":14,"i":5,"x":0.21,"y":0.11},{"g":"m","k":14,"i":6,"x":0.235,"y":0.16},{"g":"m","k":14,"i":7,"x":0.241,"y":0.176},{"g":"m","k":14,"i":8,"x":0.248,"y":0.196},
{"g":"m","k":15,"i":0,"x":0.0,"y":0.0},{"g":"m","k":15,"i":1,"x":0.01,"y":-0.05},{"g":"m","k":15,"i":2,"x":0.03,"y":0.0},{"g":"m","k":15,"i":3,"x":0.05,"y":0.05},{"g":"m","k":15,"i":4,"x":0.07,"y":0.11},{"g":"m","k":15,"i":5,"x":0.08,"y":0.16},
{"g":"m","k":16,"i":0,"x":0.002,"y":-0.07},{"g":"m","k":16,"i":1,"x":0.015,"y":-0.03},{"g":"m","k":16,"i":2,"x":0.03,"y":0.02},{"g":"m","k":16,"i":3,"x":0.05,"y":0.07},{"g":"m","k":16,"i":4,"x":0.06,"y":0.1},
{"g":"m","k":17,"i":0,"x":0.005,"y":0.06},{"g":"m","k":17,"i":1,"x":0.01,"y":0.0},{"g":"m","k":17,"i":2,"x":0.03,"y":-0.04},{"g":"m","k":17,"i":3,"x":0.06,"y":-0.01},{"g":"m","k":17,"i":4,"x":0.09,"y":0.03},{"g":"m","k":17,"i":5,"x":0.12,"y":0.08},{"g":"m","k":17,"i":6,"x":0.14,"y":0.12},{"g":"m","k":17,"i":7,"x":0.16,"y":0.16},{"g":"m","k":17,"i":8,"x":0.17,"y":0.2},
{"g":"m","k":18,"i":0,"x":0.0,"y":-0.05},{"g":"m","k":18,"i":1,"x":0.02,"y":-0.1},{"g":"m","k":18,"i":2,"x":0.05,"y":-0.08},{"g":"m","k":18,"i":3,"x":0.09,"y":-0.03},{"g":"m","k":18,"i":4,"x":0.14,"y":0.03},{"g":"m","k":18,"i":5,"x":0.18,"y":0.08},{"g":"m","k":18,"i":6,"x":0.21,"y":0.12},
{"g":"m","k":19,"i":0,"x":0.002,"y":-0.12},{"g":"m","k":19,"i":1,"x":0.008,"y":-0.04},{"g":"m","k":19,"i":2,"x":0.004,"y":0.06},{"g":"m","k":19,"i":3,"x":0.012,"y":-0.09},{"g":"m","k":19,"i":4,"x":0.02,"y":-0.06},{"g":"m","k":19,"i":5,"x":0.04,"y":-0.07},{"g":"m","k":19,"i":6,"x":0.07,"y":-0.03},

{"g":"g","k":1,"i":0,"x":-0.006,"y":0.0},{"g":"g","k":1,"i":1,"x":0.01,"y":-0.015},{"g":"g","k":1,"i":2,"x":0.033,"y":-0.026},{"g":"g","k":1,"i":3,"x":0.056,"y":-0.015},{"g":"g","k":1,"i":4,"x":0.084,"y":0.0275},{"g":"g","k":1,"i":5,"x":0.108,"y":0.09},{"g":"g","k":1,"i":6,"x":0.127,"y":0.144},{"g":"g","k":1,"i":7,"x":0.161,"y":0.209},{"g":"g","k":1,"i":8,"x":0.175,"y":0.227},{"g":"g","k":1,"i":9,"x":0.19,"y":0.249}
],
"E": [
{"k":"e","i":0,"x":0,"y":0.25},{"k":"e","i":1,"x":0.0959,"y":0.249},{"k":"e","i":2,"x":0.191,"y":0.2462},{"k":"e","i":3,"x":0.2847,"y":0.2415},{"k":"e","i":4,"x":0.3762,"y":0.2349},{"k":"e","i":5,"x":0.4649,"y":0.2266},{"k":"e","i":6,"x":0.55,"y":0.2165},{"k":"e","i":7,"x":0.6309,"y":0.2048},{"k":"e","i":8,"x":0.7071,"y":0.1915},{"k":"e","i":9,"x":0.7778,"y":0.1768},{"k":"e","i":10,"x":0.8426,"y":0.1607},{"k":"e","i":11,"x":0.9011,"y":0.1434},{"k":"e","i":12,"x":0.9526,"y":0.125},{"k":"e","i":13,"x":0.9969,"y":0.1057},{"k":"e","i":14,"x":1.0337,"y":0.0855},{"k":"e","i":15,"x":1.0625,"y":0.0647},{"k":"e","i":16,"x":1.0833,"y":0.0434},{"k":"e","i":17,"x":1.0958,"y":0.0218},{"k":"e","i":18,"x":1.1,"y":0},
{"k":"e","i":19,"x":1.0958,"y":-0.0218},{"k":"e","i":20,"x":1.0833,"y":-0.0434},{"k":"e","i":21,"x":1.0625,"y":-0.0647},{"k":"e","i":22,"x":1.0337,"y":-0.0855},{"k":"e","i":23,"x":0.9969,"y":-0.1057},{"k":"e","i":24,"x":0.9526,"y":-0.125},{"k":"e","i":25,"x":0.9011,"y":-0.1434},{"k":"e","i":26,"x":0.8426,"y":-0.1607},{"k":"e","i":27,"x":0.7778,"y":-0.1768},{"k":"e","i":28,"x":0.7071,"y":-0.1915},{"k":"e","i":29,"x":0.6309,"y":-0.2048},{"k":"e","i":30,"x":0.55,"y":-0.2165},{"k":"e","i":31,"x":0.4649,"y":-0.2266},{"k":"e","i":32,"x":0.3762,"y":-0.2349},{"k":"e","i":33,"x":0.2847,"y":-0.2415},{"k":"e","i":34,"x":0.191,"y":-0.2462},{"k":"e","i":35,"x":0.0959,"y":-0.249},{"k":"e","i":36,"x":0,"y":-0.25},
{"k":"a","i":0,"x":-0.028,"y":0.123},{"k":"a","i":1,"x":0.266,"y":0.123},{"k":"a","i":2,"x":0.266,"y":-0.203}
],
"P": [
{"x":0.101,"y":0.251},{"x":0.175,"y":0.261},{"x":0.194,"y":0.294},{"x":0.198,"y":0.25},{"x":0.254,"y":0.265},{"x":0.316,"y":0.337},{"x":0.141,"y":0.224},{"x":0.152,"y":0.225},{"x":0.189,"y":0.222},{"x":0.108,"y":0.2},{"x":0.12,"y":0.177},{"x":0.132,"y":0.176},{"x":0.218,"y":0.178},{"x":0.248,"y":0.196},{"x":0.19,"y":0.249},
{"x":0.509,"y":0.286},{"x":0.527,"y":0.241},{"x":0.588,"y":0.252},{"x":0.597,"y":0.244},{"x":0.603,"y":0.223},{"x":0.768,"y":0.232},{"x":0.806,"y":0.234},{"x":0.99,"y":0.385},{"x":1.03,"y":0.314},{"x":0.99,"y":0.206},{"x":1.132,"y":0.186},{"x":0.818,"y":0.19},{"x":0.826,"y":0.194},{"x":0.556,"y":0.167},
{"x":1.122,"y":0.0615},{"x":1.145,"y":0.047},{"x":1.187,"y":0.041},{"x":1.18,"y":0.035},{"x":1.113,"y":0.0146},{"x":1.127,"y":0.009},{"x":1.131,"y":-0.0016},{"x":1.117,"y":-0.013},{"x":1.162,"y":-0.014},{"x":1.188,"y":-0.012},{"x":1.115,"y":-0.021},{"x":1.124,"y":-0.03},{"x":1.134,"y":-0.029},{"x":1.12,"y":-0.033},{"x":1.17,"y":-0.034},{"x":1.151,"y":-0.049},{"x":1.155,"y":-0.06},{"x":1.215,"y":-0.066},{"x":1.16,"y":-0.07},{"x":1.167,"y":-0.083},{"x":1.177,"y":-0.08}
],
"T": [
{"t":"A","x":-0.031,"y":0.142},{"t":"B","x":0.261,"y":0.142},{"t":"C","x":0.295,"y":-0.2015}
],
"O": [{"x":-0.006,"y":0.0}]
},
"layer": [
{
 "data": {"name": "L"},
 "transform": [{"filter": "datum.g == 'r'"}],
 "mark": {"type": "line", "color": "#ff0000", "strokeWidth": 1.4},
 "encoding": {
  "x": {"field": "x", "type": "quantitative", "scale": {"domain": [-0.2, 1.4], "nice": false, "zero": false},
        "axis": {"orient": "bottom", "values": [-0.2, 0, 0.2, 0.4, 0.6, 0.8, 1, 1.2, 1.4], "labelExpr": "'' + datum.value", "labelPadding": 22, "title": "Relative pump current, [-]", "titleX": 625, "titleY": 90, "titleBaseline": "alphabetic", "titleAlign": "center"}},
  "y": {"field": "y", "type": "quantitative", "scale": {"domain": [-0.3, 0.4], "nice": false, "zero": false},
        "axis": {"orient": "left", "values": [-0.3, -0.2, -0.1, 0, 0.1, 0.2, 0.3, 0.4], "labelExpr": "'' + datum.value", "labelPadding": 17, "title": "Area ratio,", "titleX": -90, "titleY": 444, "titleBaseline": "alphabetic", "titleAlign": "center", "titleAngle": -90}},
  "detail": {"field": "k"},
  "order": {"field": "i", "type": "quantitative"}
 }
},
{
 "data": {"name": "L"},
 "transform": [{"filter": "datum.g == 'b'"}],
 "mark": {"type": "line", "color": "#0000ff", "strokeWidth": 1.4},
 "encoding": {
  "x": {"field": "x", "type": "quantitative", "scale": {"domain": [-0.2, 1.4], "nice": false, "zero": false}, "axis": null},
  "y": {"field": "y", "type": "quantitative", "scale": {"domain": [-0.3, 0.4], "nice": false, "zero": false}, "axis": null},
  "detail": {"field": "k"},
  "order": {"field": "i", "type": "quantitative"}
 }
},
{
 "data": {"name": "L"},
 "transform": [{"filter": "datum.g == 'm'"}],
 "mark": {"type": "line", "color": "#ff00ff", "strokeWidth": 1.4},
 "encoding": {
  "x": {"field": "x", "type": "quantitative", "scale": {"domain": [-0.2, 1.4], "nice": false, "zero": false}, "axis": null},
  "y": {"field": "y", "type": "quantitative", "scale": {"domain": [-0.3, 0.4], "nice": false, "zero": false}, "axis": null},
  "detail": {"field": "k"},
  "order": {"field": "i", "type": "quantitative"}
 }
},
{
 "data": {"name": "L"},
 "transform": [{"filter": "datum.g == 'g'"}],
 "mark": {"type": "line", "color": "#00cc00", "strokeWidth": 1.4},
 "encoding": {
  "x": {"field": "x", "type": "quantitative", "scale": {"domain": [-0.2, 1.4], "nice": false, "zero": false}, "axis": null},
  "y": {"field": "y", "type": "quantitative", "scale": {"domain": [-0.3, 0.4], "nice": false, "zero": false}, "axis": null},
  "detail": {"field": "k"},
  "order": {"field": "i", "type": "quantitative"}
 }
},
{
 "data": {"name": "E"},
 "mark": {"type": "line", "color": "#000000", "strokeWidth": 1.6},
 "encoding": {
  "x": {"field": "x", "type": "quantitative", "scale": {"domain": [-0.2, 1.4], "nice": false, "zero": false}, "axis": null},
  "y": {"field": "y", "type": "quantitative", "scale": {"domain": [-0.3, 0.4], "nice": false, "zero": false}, "axis": null},
  "detail": {"field": "k"},
  "order": {"field": "i", "type": "quantitative"}
 }
},
{
 "data": {"name": "O"},
 "mark": {"type": "point", "shape": "circle", "filled": false, "color": "#00cc00", "size": 250, "strokeWidth": 1.4},
 "encoding": {
  "x": {"field": "x", "type": "quantitative", "scale": {"domain": [-0.2, 1.4], "nice": false, "zero": false}, "axis": null},
  "y": {"field": "y", "type": "quantitative", "scale": {"domain": [-0.3, 0.4], "nice": false, "zero": false}, "axis": null}
 }
},
{
 "data": {"name": "T"},
 "mark": {"type": "text", "fontSize": 40, "color": "black", "align": "center", "baseline": "middle", "font": "Liberation Sans"},
 "encoding": {
  "x": {"field": "x", "type": "quantitative", "scale": {"domain": [-0.2, 1.4], "nice": false, "zero": false}, "axis": null},
  "y": {"field": "y", "type": "quantitative", "scale": {"domain": [-0.3, 0.4], "nice": false, "zero": false}, "axis": null},
  "text": {"field": "t"}
 }
},
{
 "data": {"name": "P"},
 "mark": {"type": "point", "shape": "M-1,-1L1,1M-1,1L1,-1", "filled": false, "color": "#22ee22", "size": 110, "strokeWidth": 1.4},
 "encoding": {
  "x": {"field": "x", "type": "quantitative", "scale": {"domain": [-0.2, 1.4], "nice": false, "zero": false},
        "axis": {"orient": "top", "values": [-0.2, 0, 0.2, 0.4, 0.6, 0.8, 1, 1.2, 1.4], "labels": false, "title": null}},
  "y": {"field": "y", "type": "quantitative", "scale": {"domain": [-0.3, 0.4], "nice": false, "zero": false},
        "axis": {"orient": "right", "values": [-0.3, -0.2, -0.1, 0, 0.1, 0.2, 0.3, 0.4], "labels": false, "title": null}}
 }
}
],
"resolve": {"axis": {"x": "independent", "y": "independent"}}
}
